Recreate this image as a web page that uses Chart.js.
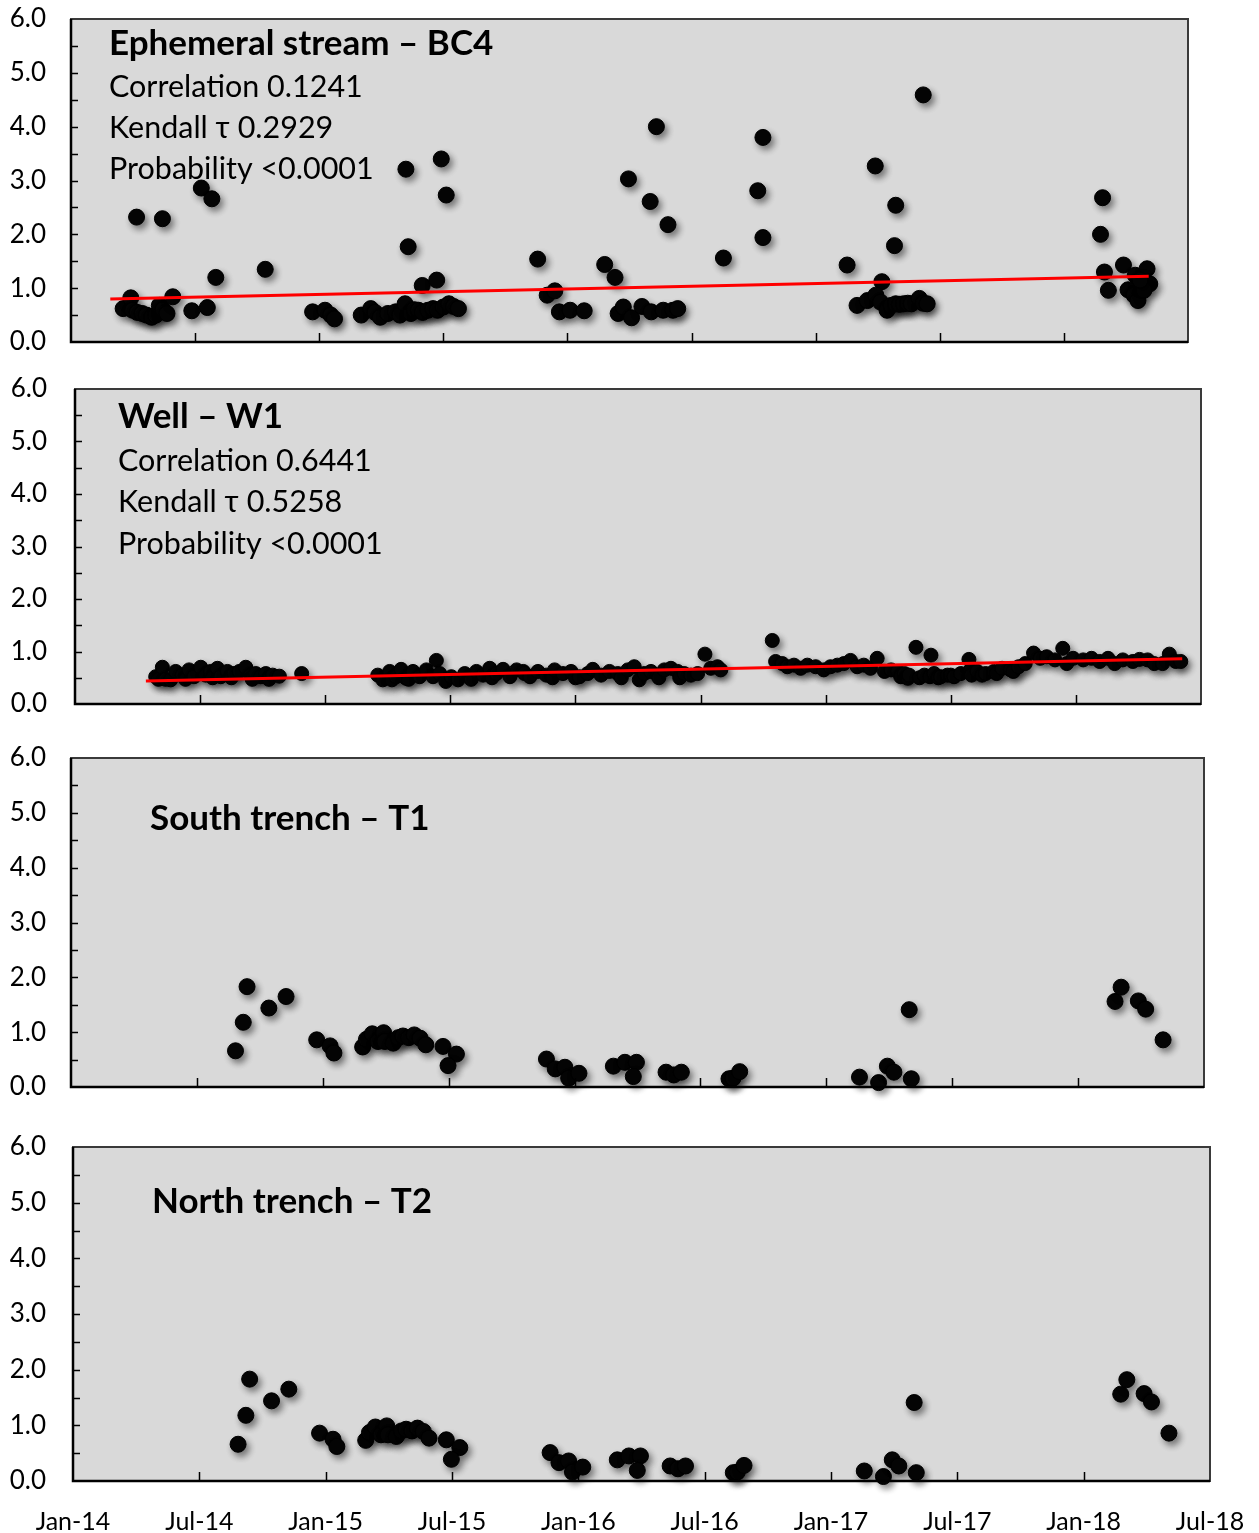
<!DOCTYPE html>
<html>
<head>
<meta charset="utf-8">
<script src="https://cdn.jsdelivr.net/npm/chart.js@4.4.1/dist/chart.umd.min.js"></script>
<style>
  html, body { margin: 0; padding: 0; background: #fff; }
  #wrap { position: relative; width: 1259px; height: 1533px; overflow: hidden; }
  #wrap canvas { position: absolute; left: 0; }
</style>
</head>
<body>
<div id="wrap">
  <canvas id="c-bc4"></canvas>
  <canvas id="c-w1"></canvas>
  <canvas id="c-t1"></canvas>
  <canvas id="c-t2"></canvas>
</div>
<script>
// ── Axis labels ───────────────────────────────────────────────────────────────
// x is "months since Jan-14"
const X_TICK_LABELS = ['Jan-14', 'Jul-14', 'Jan-15', 'Jul-15', 'Jan-16', 'Jul-16', 'Jan-17', 'Jul-17', 'Jan-18', 'Jul-18'];
const Y_TICK_LABELS = ['0.0', '1.0', '2.0', '3.0', '4.0', '5.0', '6.0'];

// ── Ephemeral stream – BC4 ────────────────────────────────────────────────────
const BC4_TEXT = ['Ephemeral stream – BC4', 'Correlation 0.1241', 'Kendall τ 0.2929', 'Probability <0.0001'];
const BC4_MONTHS = [
  2.52, 2.89, 2.98, 3.20, 3.44, 3.65, 3.90, 4.10, 4.27, 4.45, 4.64, 4.92, 5.84, 6.59,
  3.17, 4.42, 6.30, 6.81, 7.00, 9.39,
  11.68, 12.28, 12.56, 12.74,
  14.03, 14.49, 14.70, 14.95, 15.32, 15.69, 15.90, 16.15, 16.43, 16.60, 16.80, 17.00, 17.26, 17.50, 17.72, 18.00, 18.27, 18.50, 18.73,
  16.19, 16.30, 17.90, 18.14, 16.98, 17.68,
  22.56, 23.02, 23.39, 23.61, 24.13, 24.81,
  25.80, 26.30, 26.95, 28.00, 28.30, 28.86,
  26.45, 26.70, 27.10, 27.60, 28.05, 28.63, 29.10, 29.33,
  31.54, 33.20, 33.45, 33.45,
  37.52, 38.88, 39.87, 39.81, 39.20, 41.20,
  38.00, 38.50, 38.91, 39.14, 39.45, 39.65, 39.87, 40.05, 40.25, 40.45, 40.63, 41.01, 41.20, 41.39,
  49.87, 49.77, 49.96, 50.15, 50.88, 51.45, 52.02, 52.15, 51.10, 51.39, 51.58, 51.87, 51.68,
];
const BC4_VALUES = [
  0.62, 0.82, 0.59, 0.55, 0.53, 0.50, 0.46, 0.50, 0.68, 0.60, 0.53, 0.84, 0.58, 0.64,
  2.32, 2.29, 2.86, 2.66, 1.20, 1.35,
  0.56, 0.59, 0.50, 0.43,
  0.50, 0.62, 0.55, 0.46, 0.53, 0.56, 0.50, 0.71, 0.53, 0.60, 0.59, 0.55, 0.59, 0.62, 0.59, 0.65, 0.71, 0.66, 0.62,
  3.21, 1.77, 3.40, 2.73, 1.05, 1.15,
  1.54, 0.87, 0.95, 0.56, 0.59, 0.58,
  1.44, 1.20, 3.03, 2.61, 4.00, 2.18,
  0.53, 0.65, 0.45, 0.66, 0.56, 0.59, 0.59, 0.62,
  1.56, 2.81, 3.80, 1.94,
  1.43, 3.27, 2.54, 1.79, 1.12, 4.59,
  0.68, 0.77, 0.87, 0.74, 0.59, 0.68, 0.71, 0.70, 0.71, 0.72, 0.71, 0.81, 0.72, 0.71,
  2.68, 2.00, 1.30, 0.96, 1.43, 1.24, 1.36, 1.08, 0.97, 0.87, 0.77, 0.96, 1.15,
];
const BC4_TREND_MONTHS = [1.9, 52.1];
const BC4_TREND_VALUES = [0.80, 1.22];

// ── Well – W1 ─────────────────────────────────────────────────────────────────
const W1_TEXT = ['Well – W1', 'Correlation 0.6441', 'Kendall τ 0.5258', 'Probability <0.0001'];
const W1_MONTHS = [
  3.87, 4.00, 4.19, 4.35, 4.59, 4.83, 5.15, 5.30, 5.47, 5.71, 6.03, 6.27, 6.51, 6.60, 6.83, 6.99,
  7.31, 7.50, 7.63, 7.88, 8.19, 8.43, 8.50, 8.67, 8.91, 9.15, 9.30, 9.48, 9.80,
  10.87,
  14.52, 14.76, 15.09, 15.20, 15.40, 15.64, 15.88, 16.00, 16.21, 16.53, 16.85, 17.17, 17.33, 17.49,
  17.78, 18.05, 18.37, 18.69, 18.93, 19.00, 19.25, 19.57, 19.89, 20.00, 20.21, 20.53, 20.86, 21.18,
  21.50, 21.56, 21.82, 22.20, 22.60, 22.90, 23.00, 23.40, 23.79, 24.00, 24.19, 24.59, 24.83, 25.23,
  25.63, 26.03, 26.20, 26.51, 26.82, 27.06, 27.30, 27.62, 27.94, 28.00, 28.26, 28.58, 28.90, 29.00,
  29.22, 29.54, 29.86, 30.21, 30.49, 30.81, 30.97,
  33.44, 33.60, 33.92, 34.16, 34.48, 34.80, 35.12, 35.52, 35.91, 36.23, 36.56, 36.87, 37.19, 37.51,
  37.83, 38.15, 38.47,
  38.82, 39.14, 39.46, 39.60, 39.78, 39.94, 40.00, 40.33, 40.50, 40.73, 41.00, 41.05, 41.20, 41.40,
  41.52, 41.84, 42.00, 42.16, 42.48, 42.87, 42.95, 43.00, 43.27, 43.50, 43.67, 44.06, 44.20, 44.46,
  44.86, 45.00, 45.25, 45.57, 45.97, 46.29, 46.60, 47.00, 47.37, 47.56, 47.87, 48.35, 48.75, 49.14,
  49.54, 49.86, 50.25, 50.73, 51.05, 51.44, 51.76, 52.16, 52.48, 52.79, 53.03,
];
const W1_VALUES = [
  0.52, 0.47, 0.70, 0.47, 0.46, 0.62, 0.55, 0.47, 0.65, 0.52, 0.70, 0.55, 0.62, 0.50, 0.68, 0.52,
  0.62, 0.50, 0.58, 0.62, 0.70, 0.55, 0.47, 0.58, 0.52, 0.58, 0.47, 0.55, 0.53,
  0.58,
  0.55, 0.46, 0.62, 0.46, 0.52, 0.66, 0.49, 0.47, 0.62, 0.52, 0.65, 0.52, 0.83, 0.58,
  0.43, 0.52, 0.46, 0.58, 0.52, 0.47, 0.62, 0.55, 0.68, 0.50, 0.58, 0.66, 0.52, 0.65,
  0.62, 0.58, 0.52, 0.62, 0.55, 0.50, 0.65, 0.58, 0.62, 0.50, 0.52, 0.58, 0.66, 0.55,
  0.62, 0.58, 0.50, 0.65, 0.71, 0.46, 0.58, 0.62, 0.55, 0.50, 0.65, 0.68, 0.62, 0.50,
  0.58, 0.55, 0.58, 0.95, 0.68, 0.71, 0.65,
  1.21, 0.81, 0.77, 0.71, 0.74, 0.68, 0.74, 0.71, 0.65, 0.71, 0.74, 0.77, 0.83, 0.71,
  0.74, 0.68, 0.87,
  0.62, 0.65, 0.62, 0.52, 0.58, 0.49, 0.55, 1.08, 0.50, 0.55, 0.52, 0.93, 0.58, 0.50,
  0.52, 0.55, 0.55, 0.52, 0.58, 0.85, 0.65, 0.55, 0.62, 0.55, 0.58, 0.62, 0.58, 0.68,
  0.65, 0.62, 0.71, 0.77, 0.97, 0.87, 0.90, 0.84, 1.06, 0.77, 0.87, 0.84, 0.87, 0.81,
  0.87, 0.77, 0.84, 0.81, 0.85, 0.84, 0.77, 0.77, 0.95, 0.81, 0.81,
];
const W1_TREND_MONTHS = [3.4, 53.1];
const W1_TREND_VALUES = [0.44, 0.86];

// ── South trench – T1 ─────────────────────────────────────────────────────────
const T1_TEXT = ['South trench – T1'];
const T1_MONTHS = [
  7.84, 8.21, 8.39, 9.43, 10.25, 11.71, 12.35, 12.53,
  13.90, 14.08, 14.36, 14.63, 14.90, 14.96, 15.36, 15.60, 15.82, 16.10, 16.36, 16.64, 16.91,
  17.73, 18.37, 17.97,
  22.66, 23.08, 23.54, 23.72, 24.21, 25.85, 26.40, 26.95, 26.80, 28.36, 28.73, 29.09,
  31.36, 31.55, 31.87,
  37.58, 38.49, 38.91, 39.22, 40.05, 39.95,
  49.76, 50.05, 50.87, 51.22, 52.05,
];
const T1_VALUES = [
  0.66, 1.18, 1.83, 1.44, 1.65, 0.86, 0.75, 0.62,
  0.73, 0.87, 0.97, 0.83, 0.99, 0.83, 0.80, 0.90, 0.93, 0.90, 0.95, 0.89, 0.77,
  0.74, 0.60, 0.39,
  0.51, 0.33, 0.36, 0.16, 0.25, 0.38, 0.45, 0.45, 0.19, 0.27, 0.22, 0.27,
  0.15, 0.16, 0.28,
  0.18, 0.08, 0.38, 0.27, 0.15, 1.41,
  1.56, 1.82, 1.57, 1.42, 0.86,
];

// ── North trench – T2 (same readings as T1 in the source figure) ─────────────
const T2_TEXT = ['North trench – T2'];
const T2_MONTHS = [
  7.84, 8.21, 8.39, 9.43, 10.25, 11.71, 12.35, 12.53,
  13.90, 14.08, 14.36, 14.63, 14.90, 14.96, 15.36, 15.60, 15.82, 16.10, 16.36, 16.64, 16.91,
  17.73, 18.37, 17.97,
  22.66, 23.08, 23.54, 23.72, 24.21, 25.85, 26.40, 26.95, 26.80, 28.36, 28.73, 29.09,
  31.36, 31.55, 31.87,
  37.58, 38.49, 38.91, 39.22, 40.05, 39.95,
  49.76, 50.05, 50.87, 51.22, 52.05,
];
const T2_VALUES = [
  0.66, 1.18, 1.83, 1.44, 1.65, 0.86, 0.75, 0.62,
  0.73, 0.87, 0.97, 0.83, 0.99, 0.83, 0.80, 0.90, 0.93, 0.90, 0.95, 0.89, 0.77,
  0.74, 0.60, 0.39,
  0.51, 0.33, 0.36, 0.16, 0.25, 0.38, 0.45, 0.45, 0.19, 0.27, 0.22, 0.27,
  0.15, 0.16, 0.28,
  0.18, 0.08, 0.38, 0.27, 0.15, 1.41,
  1.56, 1.82, 1.57, 1.42, 0.86,
];

// ── Style ─────────────────────────────────────────────────────────────────────
const FONT_FAMILY = 'Lato, "Open Sans", sans-serif';
const PLOT_BG = '#d9d9d9';
const TREND = '#ff0000';
const PAGE_W = 1259;

// ── Helpers ───────────────────────────────────────────────────────────────────
function zip(xs, ys) {
  return xs.map((x, i) => ({ x, y: ys[i] }));
}

// plot background, frame and inward tick marks (Excel style)
const framePlugin = {
  id: 'frame',
  beforeDatasetsDraw(chart) {
    const { ctx, chartArea: a } = chart;
    ctx.save();
    ctx.fillStyle = PLOT_BG;
    ctx.fillRect(a.left, a.top, a.right - a.left, a.bottom - a.top);
    ctx.restore();
  },
  afterDatasetsDraw(chart) {
    const { ctx, chartArea: a, scales } = chart;
    ctx.save();
    ctx.strokeStyle = '#3a3a3a';
    ctx.lineWidth = 2;
    ctx.strokeRect(a.left, a.top, a.right - a.left, a.bottom - a.top);
    ctx.strokeStyle = '#000';
    ctx.lineWidth = 2.5;
    ctx.beginPath();
    ctx.moveTo(a.left, a.top);
    ctx.lineTo(a.left, a.bottom);
    ctx.lineTo(a.right, a.bottom);
    ctx.stroke();
    // ticks every 0.5 on y and every 6 months on x, pointing inward
    ctx.lineWidth = 1.5;
    ctx.beginPath();
    for (let v = 0.5; v < 6; v += 0.5) {
      const y = Math.round(scales.y.getPixelForValue(v)) + 0.5;
      ctx.moveTo(a.left, y);
      ctx.lineTo(a.left + 7, y);
    }
    for (let m = 6; m < 54; m += 6) {
      const x = Math.round(scales.x.getPixelForValue(m)) + 0.5;
      ctx.moveTo(x, a.bottom);
      ctx.lineTo(x, a.bottom - 9);
    }
    ctx.stroke();
    ctx.restore();
  },
};

// soft drop shadow under the markers
const shadowPlugin = {
  id: 'dotShadow',
  beforeDatasetDraw(chart, args) {
    if (args.meta.type !== 'scatter') return;
    const ctx = chart.ctx;
    ctx.save();
    ctx.shadowColor = 'rgba(0,0,0,0.45)';
    ctx.shadowBlur = 6;
    ctx.shadowOffsetX = 3;
    ctx.shadowOffsetY = 4;
  },
  afterDatasetDraw(chart, args) {
    if (args.meta.type !== 'scatter') return;
    chart.ctx.restore();
  },
};

// panel caption + statistics
const notePlugin = {
  id: 'notes',
  afterDraw(chart, _args, opts) {
    const ctx = chart.ctx;
    ctx.save();
    ctx.fillStyle = '#000';
    ctx.textBaseline = 'middle';
    ctx.textAlign = 'left';
    opts.lines.forEach((txt, i) => {
      ctx.font = i === 0 ? `bold ${opts.titleSize}px ${FONT_FAMILY}` : `${opts.textSize}px ${FONT_FAMILY}`;
      ctx.fillText(txt, opts.x, opts.ys[i] - opts.offset);
    });
    ctx.restore();
  },
};

function buildPanel(id, cfg) {
  const padTop = 19;
  const padBottom = cfg.showX ? (1533 - cfg.bottom) : 14;
  const canvas = document.getElementById(id);
  const h = cfg.bottom - cfg.top + padTop + padBottom;
  const canvasTop = cfg.top - padTop;
  canvas.width = PAGE_W;
  canvas.height = h;
  canvas.style.top = canvasTop + 'px';
  canvas.style.width = PAGE_W + 'px';
  canvas.style.height = h + 'px';

  const datasets = [{
    type: 'scatter',
    data: zip(cfg.months, cfg.values),
    pointRadius: cfg.radius,
    pointHoverRadius: cfg.radius,
    backgroundColor: '#050505',
    borderColor: '#000',
    borderWidth: 1,
    clip: false,
    order: 2,
  }];
  if (cfg.trendMonths) {
    datasets.push({
      type: 'line',
      data: zip(cfg.trendMonths, cfg.trendValues),
      borderColor: TREND,
      borderWidth: 3,
      pointRadius: 0,
      fill: false,
      order: 1,
    });
  }

  return new Chart(canvas.getContext('2d'), {
    type: 'scatter',
    data: { datasets },
    options: {
      responsive: false, animation: false, devicePixelRatio: 1,
      layout: { padding: { top: padTop, right: PAGE_W - cfg.right, bottom: cfg.showX ? 0 : padBottom, left: 0 } },
      plugins: {
        legend: { display: false },
        tooltip: { enabled: false },
        notes: {
          lines: cfg.text, x: cfg.textX, ys: cfg.textY, offset: canvasTop,
          titleSize: 35, textSize: 30.5,
        },
      },
      scales: {
        x: {
          type: 'linear', min: 0, max: 54,
          grid: { display: false, drawTicks: false },
          border: { display: false },
          ticks: {
            display: !!cfg.showX, stepSize: 6, padding: 26,
            color: '#000', font: { family: FONT_FAMILY, size: 25 },
            maxRotation: 0, autoSkip: false,
            callback: v => X_TICK_LABELS[v / 6] ?? '',
          },
          afterFit: s => {
            s.height = cfg.showX ? padBottom : 0;
            s.paddingLeft = 0; s.paddingRight = 0;
          },
        },
        y: {
          type: 'linear', min: 0, max: 6,
          grid: { display: false, drawTicks: false },
          border: { display: false },
          ticks: {
            stepSize: 1, padding: cfg.labelGap,
            color: '#000', font: { family: FONT_FAMILY, size: 26 },
            callback: v => Y_TICK_LABELS[v] ?? '',
          },
          afterFit: s => {
            s.width = cfg.left;
            s.paddingTop = 0; s.paddingBottom = 0;
          },
        },
      },
    },
    plugins: [framePlugin, shadowPlugin, notePlugin],
  });
}

// ── Build ─────────────────────────────────────────────────────────────────────
buildPanel('c-bc4', {
  top: 19, bottom: 342, left: 71, right: 1188, labelGap: 25,
  months: BC4_MONTHS, values: BC4_VALUES, radius: 8,
  trendMonths: BC4_TREND_MONTHS, trendValues: BC4_TREND_VALUES,
  text: BC4_TEXT, textX: 109, textY: [44, 87, 128, 169],
});
buildPanel('c-w1', {
  top: 389, bottom: 704, left: 75, right: 1201, labelGap: 28,
  months: W1_MONTHS, values: W1_VALUES, radius: 7,
  trendMonths: W1_TREND_MONTHS, trendValues: W1_TREND_VALUES,
  text: W1_TEXT, textX: 118, textY: [417, 461, 502, 544],
});
buildPanel('c-t1', {
  top: 758, bottom: 1087, left: 71, right: 1204, labelGap: 25,
  months: T1_MONTHS, values: T1_VALUES, radius: 8,
  text: T1_TEXT, textX: 150, textY: [819],
});
buildPanel('c-t2', {
  top: 1147, bottom: 1481, left: 73, right: 1210, labelGap: 27, showX: true,
  months: T2_MONTHS, values: T2_VALUES, radius: 8,
  text: T2_TEXT, textX: 152, textY: [1202],
});
</script>
</body>
</html>
